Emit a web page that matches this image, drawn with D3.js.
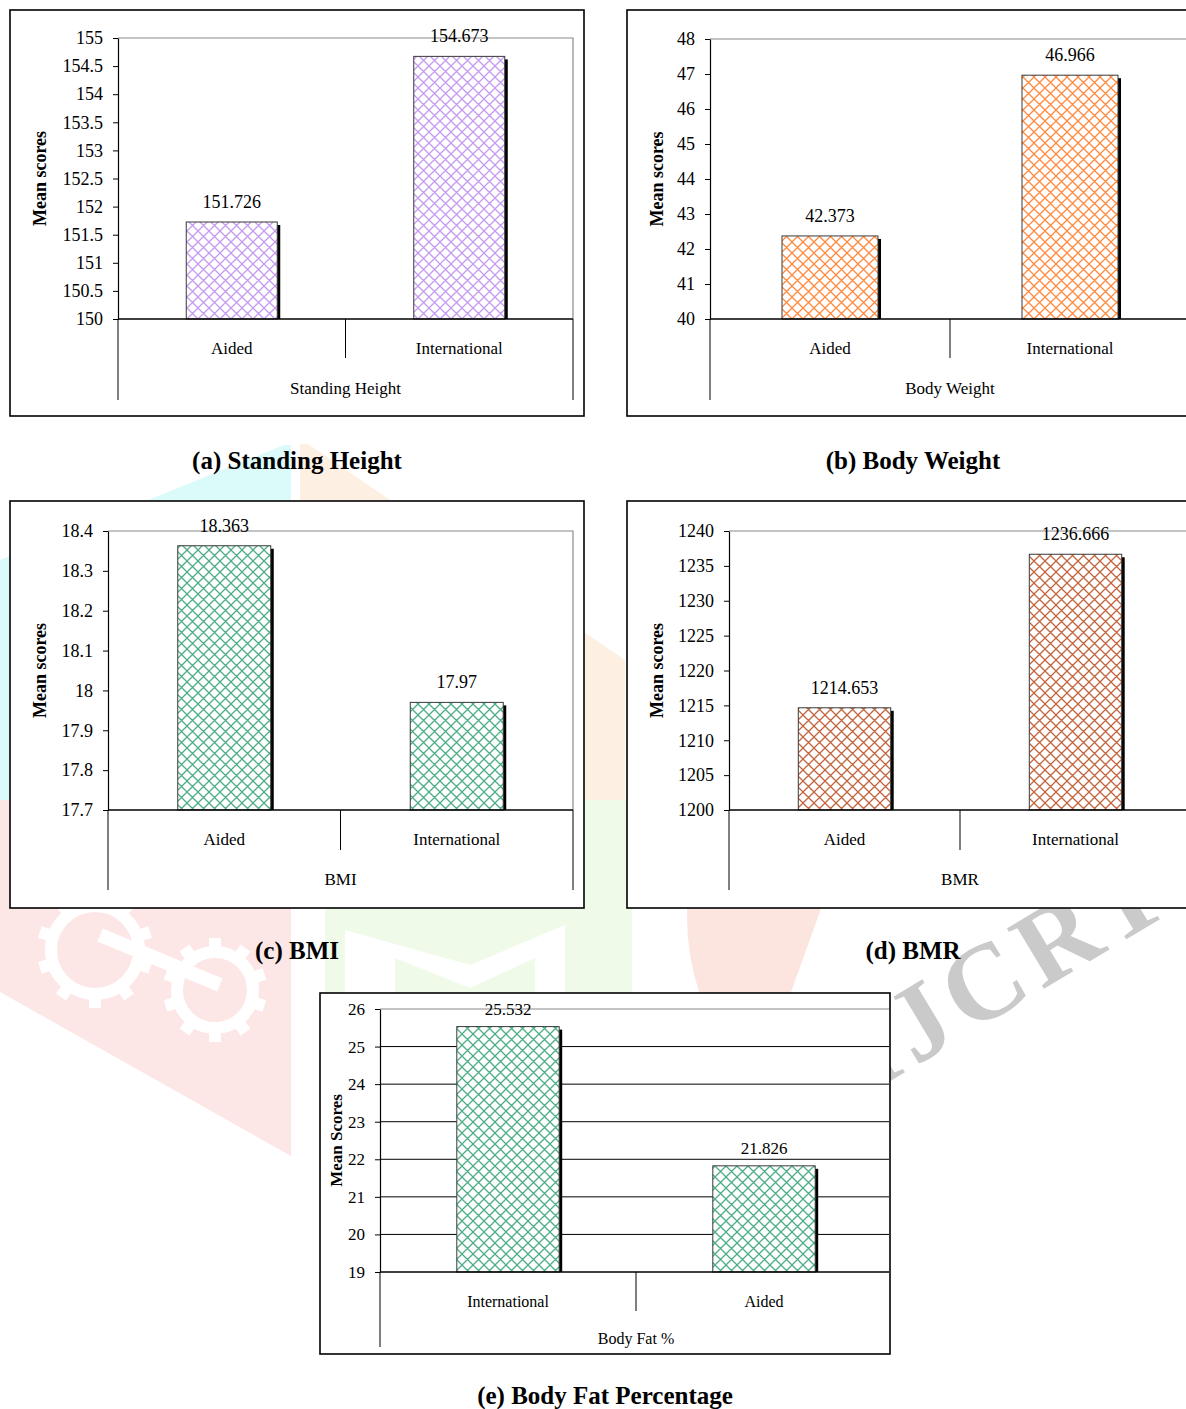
<!DOCTYPE html>
<html>
<head>
<meta charset="utf-8">
<script src="https://cdn.jsdelivr.net/npm/d3@7"></script>
<style>
  html, body { margin: 0; padding: 0; background: #fff; }
  svg { display: block; }
  text { font-family: "Liberation Serif", "Times New Roman", serif; fill: #000; }
</style>
</head>
<body>
<svg id="fig" width="1186" height="1409"></svg>
<script>
// ---- data ----
const heightCategories = ["Aided", "International"];
const heightValues = [151.726, 154.673];
const heightTicks = [150, 150.5, 151, 151.5, 152, 152.5, 153, 153.5, 154, 154.5, 155];

const weightCategories = ["Aided", "International"];
const weightValues = [42.373, 46.966];
const weightTicks = [40, 41, 42, 43, 44, 45, 46, 47, 48];

const bmiCategories = ["Aided", "International"];
const bmiValues = [18.363, 17.97];
const bmiTicks = [17.7, 17.8, 17.9, 18, 18.1, 18.2, 18.3, 18.4];

const bmrCategories = ["Aided", "International"];
const bmrValues = [1214.653, 1236.666];
const bmrTicks = [1200, 1205, 1210, 1215, 1220, 1225, 1230, 1235, 1240];

const fatCategories = ["International", "Aided"];
const fatValues = [25.532, 21.826];
const fatTicks = [19, 20, 21, 22, 23, 24, 25, 26];

const groupLabels = ["Standing Height", "Body Weight", "BMI", "BMR", "Body Fat %"];
const captions = ["(a) Standing Height", "(b) Body Weight", "(c) BMI", "(d) BMR", "(e) Body Fat Percentage"];
const yTitles = ["Mean scores", "Mean scores", "Mean scores", "Mean scores", "Mean Scores"];

// ---- layout ----
const panels = [
  { cats: heightCategories, vals: heightValues, ticks: heightTicks, color: "#c59bf2",
    frame: [10, 10, 574, 406], plot: { x0: 118, x1: 573, top: 38, bottom: 319 },
    axisEnd: 400, divEnd: 358, titleX: 40, caption: [297, 469], grid: false, fs: 18, cfs: 17 },
  { cats: weightCategories, vals: weightValues, ticks: weightTicks, color: "#ff8a3d",
    frame: [627, 10, 574, 406], plot: { x0: 710, x1: 1190, top: 39, bottom: 319 },
    axisEnd: 400, divEnd: 358, titleX: 657, caption: [913, 469], grid: false, fs: 18, cfs: 17 },
  { cats: bmiCategories, vals: bmiValues, ticks: bmiTicks, color: "#4cae84",
    frame: [10, 501, 574, 407], plot: { x0: 108, x1: 573, top: 531, bottom: 810 },
    axisEnd: 890, divEnd: 850, titleX: 40, caption: [297, 959], grid: false, fs: 18, cfs: 17 },
  { cats: bmrCategories, vals: bmrValues, ticks: bmrTicks, color: "#c2643c",
    frame: [627, 501, 574, 407], plot: { x0: 729, x1: 1191, top: 531, bottom: 810 },
    axisEnd: 890, divEnd: 850, titleX: 657, caption: [913, 959], grid: false, fs: 18, cfs: 17 },
  { cats: fatCategories, vals: fatValues, ticks: fatTicks, color: "#4cae84",
    frame: [320, 993, 570, 361], plot: { x0: 380, x1: 892, top: 1009, bottom: 1272 },
    axisEnd: 1347, divEnd: 1311, titleX: 336, caption: [605, 1404], grid: true, fs: 17, cfs: 16 }
];

const svg = d3.select("#fig");
const defs = svg.append("defs");

// ---- faint logo watermark behind the panels ----
const wm = svg.append("g").attr("class", "watermark");
wm.append("polygon").attr("points", "284,445 291,445 291,820 0,820 0,560").attr("fill", "#dbfbfb");
wm.append("polygon").attr("points", "300,444 308,444 625,660 625,800 300,800").attr("fill", "#fdefe2");
wm.append("polygon").attr("points", "0,800 291,800 291,1156 0,992").attr("fill", "#fde6e6");
// gear outlines in the red wedge
[[95, 950, 44], [215, 990, 38]].forEach(([cx, cy, r]) => {
  wm.append("circle").attr("cx", cx).attr("cy", cy).attr("r", r)
    .attr("fill", "none").attr("stroke", "#fff").attr("stroke-width", 12);
  d3.range(10).forEach(i => {
    const a = i * 36;
    wm.append("rect").attr("x", cx - 6).attr("y", cy - r - 14).attr("width", 12).attr("height", 12)
      .attr("fill", "#fff").attr("transform", `rotate(${a},${cx},${cy})`);
  });
});
wm.append("line").attr("x1", 100).attr("y1", 935).attr("x2", 220).attr("y2", 985)
  .attr("stroke", "#fff").attr("stroke-width", 14);
wm.append("polygon").attr("points", "325,800 632,800 632,993 325,993").attr("fill", "#f0fae9");
wm.append("polygon").attr("points", "345,930 470,965 565,925 565,993 535,993 535,958 470,988 395,958 395,993 345,993")
  .attr("fill", "#fff");
wm.append("path").attr("d", "M 715 800 Q 668 900 700 995 L 790 995 L 860 800 Z").attr("fill", "#fde5df");
wm.append("text").attr("x", 872).attr("y", 1092)
  .attr("transform", "rotate(-31,872,1092)")
  .attr("font-size", 108).attr("font-weight", "bold").attr("letter-spacing", 8)
  .style("fill", "#cacaca").text("IJCRT");

// cross-hatch fill pattern for a given colour
function hatch(id, color) {
  const p = defs.append("pattern").attr("id", id).attr("patternUnits", "userSpaceOnUse")
    .attr("width", 11).attr("height", 11);
  p.append("rect").attr("width", 11).attr("height", 11).attr("fill", "#fff");
  p.append("path").attr("d", "M-1,-1 L12,12 M-1,12 L12,-1 M-6,5 L6,17 M5,-6 L17,6 M-6,6 L6,-6 M5,17 L17,5")
    .attr("stroke", color).attr("stroke-width", 1.3).attr("fill", "none");
  return `url(#${id})`;
}

const fmt = d3.format("~f");

panels.forEach((pn, i) => {
  const g = svg.append("g");
  const [fx, fy, fw, fh] = pn.frame;
  const P = pn.plot;

  g.append("rect").attr("x", fx).attr("y", fy).attr("width", fw).attr("height", fh)
    .attr("fill", "#fff").attr("stroke", "#000").attr("stroke-width", 1.6);

  const inner = g.append("g");
  const clipId = "clip" + i;
  defs.append("clipPath").attr("id", clipId).append("rect")
    .attr("x", fx + 1).attr("y", fy + 1).attr("width", fw - 2).attr("height", fh - 2);
  inner.attr("clip-path", `url(#${clipId})`);

  const y = d3.scaleLinear().domain(d3.extent(pn.ticks)).range([P.bottom, P.top]);
  const x = d3.scaleBand().domain(pn.cats).range([P.x0, P.x1])
    .paddingInner(0.6).paddingOuter(0.3);
  const slot = d3.scaleBand().domain(pn.cats).range([P.x0, P.x1]).padding(0);

  // gridlines (body fat panel only)
  if (pn.grid) {
    inner.selectAll(".grid").data(pn.ticks.slice(1, -1)).join("line")
      .attr("x1", P.x0).attr("x2", P.x1).attr("y1", d => y(d)).attr("y2", d => y(d))
      .attr("stroke", "#000").attr("stroke-width", 1);
  }

  // plot area border (top and right)
  inner.append("path")
    .attr("d", `M${P.x0},${y(pn.ticks[pn.ticks.length - 1])} H${P.x1} V${P.bottom}`)
    .attr("fill", "none").attr("stroke", "#8a8a8a").attr("stroke-width", 1.2);

  const fill = hatch("h" + i, pn.color);
  const base = y.domain()[0];

  // drop shadows (kept above the baseline) then bars
  inner.selectAll(".shadow").data(pn.vals).join("rect")
    .attr("x", (d, k) => x(pn.cats[k]) + 3).attr("y", d => y(d) + 3)
    .attr("width", x.bandwidth()).attr("height", d => y(base) - y(d) - 3)
    .attr("fill", "#000");
  inner.selectAll(".bar").data(pn.vals).join("rect")
    .attr("x", (d, k) => x(pn.cats[k])).attr("y", d => y(d))
    .attr("width", x.bandwidth()).attr("height", d => y(base) - y(d))
    .attr("fill", fill).attr("stroke", "#3a3a3a").attr("stroke-width", 1);

  // value labels
  inner.selectAll(".val").data(pn.vals).join("text")
    .attr("x", (d, k) => x(pn.cats[k]) + x.bandwidth() / 2)
    .attr("y", d => y(d) - (pn.grid ? 12 : 14))
    .attr("text-anchor", "middle").attr("font-size", pn.fs)
    .text(d => String(d));

  // category axis line, dividers and labels
  inner.append("line").attr("x1", P.x0).attr("x2", P.x1).attr("y1", P.bottom).attr("y2", P.bottom)
    .attr("stroke", "#000").attr("stroke-width", 1.3);
  inner.append("line").attr("x1", P.x0).attr("x2", P.x0).attr("y1", P.bottom).attr("y2", pn.axisEnd)
    .attr("stroke", "#000").attr("stroke-width", 1);
  inner.append("line").attr("x1", P.x1).attr("x2", P.x1).attr("y1", P.bottom).attr("y2", pn.axisEnd)
    .attr("stroke", "#000").attr("stroke-width", 1);
  inner.append("line").attr("x1", slot(pn.cats[1])).attr("x2", slot(pn.cats[1]))
    .attr("y1", P.bottom).attr("y2", pn.divEnd).attr("stroke", "#000").attr("stroke-width", 1);
  inner.selectAll(".cat").data(pn.cats).join("text")
    .attr("x", d => slot(d) + slot.bandwidth() / 2).attr("y", P.bottom + 35)
    .attr("text-anchor", "middle").attr("font-size", pn.cfs).text(d => d);
  inner.append("text")
    .attr("x", P.x0 + (P.x1 - P.x0) / 2).attr("y", P.bottom + (pn.grid ? 72 : 75))
    .attr("text-anchor", "middle").attr("font-size", pn.cfs).text(groupLabels[i]);

  // value axis
  const ax = g.append("g").attr("transform", `translate(${P.x0},0)`)
    .call(d3.axisLeft(y).tickValues(pn.ticks).tickSize(5).tickSizeOuter(0).tickPadding(10).tickFormat(fmt));
  ax.select(".domain").attr("stroke", "#000").attr("stroke-width", 1.2);
  ax.selectAll(".tick line").attr("stroke", "#000");
  ax.selectAll(".tick text").attr("font-family", "Liberation Serif, serif")
    .attr("font-size", pn.fs).attr("fill", "#000");

  g.append("text")
    .attr("transform", `translate(${pn.titleX},${(P.top + P.bottom) / 2}) rotate(-90)`)
    .attr("text-anchor", "middle").attr("dominant-baseline", "central")
    .attr("font-size", pn.grid ? 17 : 18).attr("font-weight", "bold").text(yTitles[i]);

  svg.append("text").attr("x", pn.caption[0]).attr("y", pn.caption[1])
    .attr("text-anchor", "middle").attr("font-size", 25).attr("font-weight", "bold")
    .text(captions[i]);
});
</script>
</body>
</html>
